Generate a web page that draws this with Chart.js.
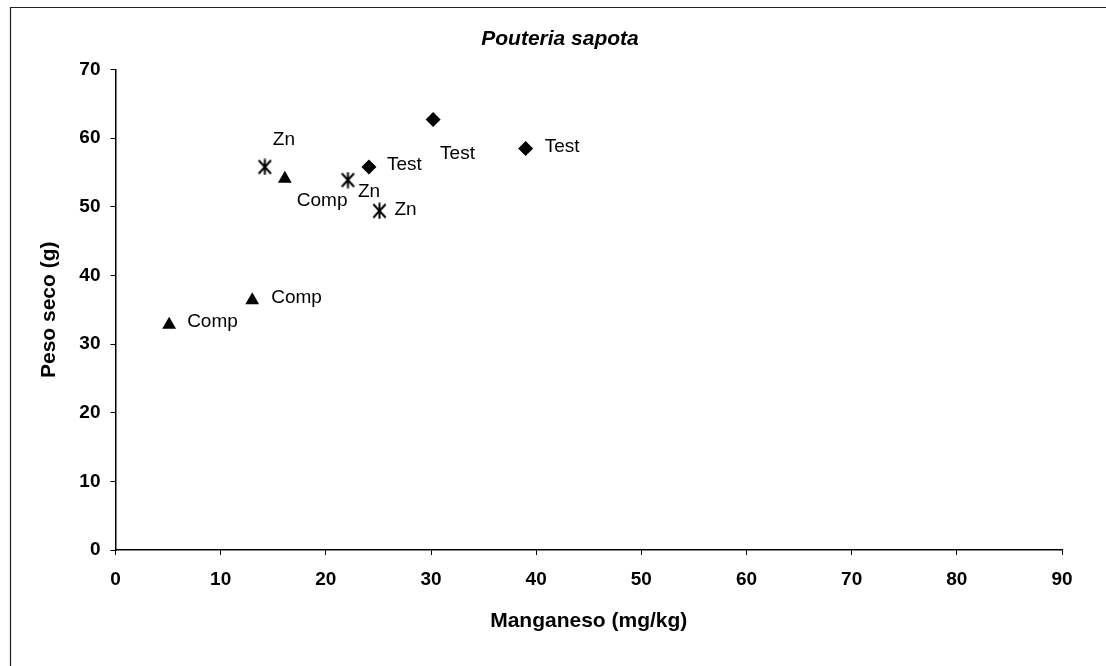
<!DOCTYPE html>
<html>
<head>
<meta charset="utf-8">
<script src="https://cdn.jsdelivr.net/npm/chart.js@4/dist/chart.umd.min.js"></script>
<style>
html,body{margin:0;padding:0;background:#fff;}
#wrap{width:1106px;height:666px;position:relative;}
</style>
</head>
<body>
<div id="wrap"><canvas id="c" width="1106" height="666"></canvas></div>
<script>
// ---- data ----
const testX = [24.1, 30.2, 39.0];
const testY = [55.8, 62.7, 58.5];
const compX = [5.1, 13.0, 16.1];
const compY = [32.8, 36.4, 54.1];
const znX = [14.2, 22.1, 25.1];
const znY = [55.8, 53.9, 49.4];
const seriesNames = ['Test', 'Comp', 'Zn'];
const xTicks = [0, 10, 20, 30, 40, 50, 60, 70, 80, 90];
const yTicks = [0, 10, 20, 30, 40, 50, 60, 70];
const chartTitle = 'Pouteria sapota';
const xTitle = 'Manganeso (mg/kg)';
const yTitle = 'Peso seco (g)';

// ---- layout (label pixel offsets from each point) ----
const labelOffsets = [
  [[18, -2], [7, 34], [19, -2]],
  [[18, -3], [19, -2], [12, 22]],
  [[8, -27], [10, 12], [15, -1]]
];

const FONT = '"Liberation Sans", Arial, Helvetica, sans-serif';

function pts(xs, ys) { return xs.map((x, i) => ({x: x, y: ys[i]})); }

function makeStar() {
  const c = document.createElement('canvas');
  c.width = 17; c.height = 17;
  const g = c.getContext('2d');
  g.strokeStyle = '#000';
  g.lineWidth = 2;
  g.lineCap = 'square';
  g.beginPath();
  g.moveTo(3, 2.5); g.lineTo(14, 14.5);
  g.moveTo(14, 2.5); g.lineTo(3, 14.5);
  g.moveTo(8.5, 1.5); g.lineTo(8.5, 15.5);
  g.stroke();
  return c;
}

const framePlugin = {
  id: 'frame',
  beforeDraw(chart) {
    const ctx = chart.ctx;
    ctx.save();
    ctx.fillStyle = '#fff';
    ctx.fillRect(0, 0, chart.width, chart.height);
    ctx.strokeStyle = '#222';
    ctx.lineWidth = 1.2;
    ctx.beginPath();
    ctx.moveTo(10.5, 666);
    ctx.lineTo(10.5, 7.5);
    ctx.lineTo(1106, 7.5);
    ctx.stroke();
    // chart title
    ctx.fillStyle = '#000';
    ctx.font = 'italic bold 21px ' + FONT;
    ctx.textAlign = 'center';
    ctx.textBaseline = 'middle';
    ctx.fillText(chartTitle, 560, 39);
    ctx.restore();
  }
};

const labelPlugin = {
  id: 'pointLabels',
  afterDatasetsDraw(chart) {
    const ctx = chart.ctx;
    ctx.save();
    ctx.font = '19px ' + FONT;
    ctx.fillStyle = '#000';
    ctx.textAlign = 'left';
    ctx.textBaseline = 'middle';
    chart.data.datasets.forEach((ds, di) => {
      const meta = chart.getDatasetMeta(di);
      meta.data.forEach((el, i) => {
        const off = labelOffsets[di][i];
        ctx.fillText(ds.label, el.x + off[0], el.y + off[1]);
      });
    });
    ctx.restore();
  }
};

new Chart(document.getElementById('c'), {
  type: 'scatter',
  data: {
    datasets: [
      {label: seriesNames[0], data: pts(testX, testY), pointStyle: 'rectRot', pointRadius: 7.5, pointHoverRadius: 7.5,
       backgroundColor: '#000', borderColor: '#000', borderWidth: 0},
      {label: seriesNames[1], data: pts(compX, compY), pointStyle: 'triangle', pointRadius: 8, pointHoverRadius: 8,
       backgroundColor: '#000', borderColor: '#000', borderWidth: 0},
      {label: seriesNames[2], data: pts(znX, znY), pointStyle: makeStar(), pointRadius: 8,
       backgroundColor: '#000', borderColor: '#000', borderWidth: 0}
    ]
  },
  options: {
    responsive: false,
    animation: false,
    devicePixelRatio: 1,
    layout: {padding: {left: 0, right: 44, top: 69.5, bottom: 0}},
    plugins: {
      legend: {display: false},
      tooltip: {enabled: false},
      title: {display: false}
    },
    scales: {
      x: {
        type: 'linear',
        min: 0, max: 90,
        afterBuildTicks: s => { s.ticks = xTicks.map(v => ({value: v})); },
        afterFit: s => { s.height = 116; },
        grid: {display: true, drawOnChartArea: false, drawTicks: true, tickLength: 5, color: '#000', lineWidth: 1},
        border: {display: true, color: '#000', width: 1.5},
        ticks: {color: '#000', padding: 13, maxRotation: 0, font: {family: FONT, size: 19, weight: 'bold'}},
        title: {display: true, text: xTitle, color: '#000',
                font: {family: FONT, size: 21, weight: 'bold', lineHeight: 1.2}, padding: {top: 0, bottom: 32}}
      },
      y: {
        type: 'linear',
        min: 0, max: 70,
        afterBuildTicks: s => { s.ticks = yTicks.map(v => ({value: v})); },
        afterFit: s => { s.width = 115.5; },
        grid: {display: true, drawOnChartArea: false, drawTicks: true, tickLength: 5, color: '#000', lineWidth: 1},
        border: {display: true, color: '#000', width: 1.5},
        ticks: {color: '#000', padding: 10, font: {family: FONT, size: 19, weight: 'bold'}},
        title: {display: true, text: yTitle, color: '#000',
                font: {family: FONT, size: 21, weight: 'bold', lineHeight: 1.2}, padding: {top: 37, bottom: 0}}
      }
    }
  },
  plugins: [framePlugin, labelPlugin]
});
</script>
</body>
</html>
